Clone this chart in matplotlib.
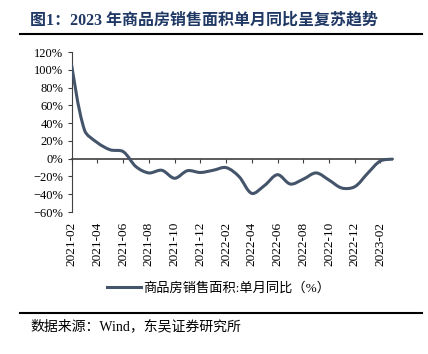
import numpy as np
import matplotlib.pyplot as plt
from matplotlib.path import Path
from matplotlib.patches import PathPatch
from matplotlib.lines import Line2D
from matplotlib.ticker import FuncFormatter

plt.rcParams['font.family'] = ['Liberation Serif', 'Noto Sans CJK SC']
plt.rcParams['axes.unicode_minus'] = True

# monthly YoY of commercial housing sales area, 2021-02 .. 2023-03 (%)
yoy = [105, 32, 18, 10, 8, -9, -16, -13, -22, -13.5, -15.5, -13, -10,
       -20, -39, -30, -18, -28.5, -23, -16, -24, -33, -31.5, -16.5, -2.5, -0.5]
tick_labels = ['2021-02', '2021-04', '2021-06', '2021-08', '2021-10', '2021-12',
               '2022-02', '2022-04', '2022-06', '2022-08', '2022-10', '2022-12',
               '2023-02']
series_name = '商品房销售面积:单月同比（%）'

line_color = '#44546A'
title_color = '#1F3864'

fig = plt.figure(figsize=(4.28, 3.54), dpi=100)
ax = fig.add_axes([0.1675, 0.401, 0.7515, 0.452])

# smoothed line like Excel: Bezier segments, tangents weighted by chord length
x = np.arange(len(yoy), dtype=float)
y = np.array(yoy, dtype=float)
n = len(x)
sx, sy = 12.86, 0.889   # rough px per unit, only used to weight the tangents


def seg_len(i, j):
    return np.hypot((x[j] - x[i]) * sx, (y[j] - y[i]) * sy)


def ctrl(i, side):
    a = max(i - 1, 0)
    b = min(i + 1, n - 1)
    dx, dy = x[b] - x[a], y[b] - y[a]
    l_in = seg_len(a, i) if i > 0 else seg_len(i, b)
    l_out = seg_len(i, b) if i < n - 1 else seg_len(a, i)
    if side > 0:
        f = l_out / (l_in + l_out) / 1.5
    else:
        f = -l_in / (l_in + l_out) / 1.5
    if i == 0 or i == n - 1:
        f = f / 2
    return (x[i] + dx * f / 2, y[i] + dy * f / 2)


verts = [(x[0], y[0])]
codes = [Path.MOVETO]
for i in range(n - 1):
    verts += [ctrl(i, 1), ctrl(i + 1, -1), (x[i + 1], y[i + 1])]
    codes += [Path.CURVE4] * 3
ax.add_patch(PathPatch(Path(verts, codes), fill=False, edgecolor=line_color,
                       lw=2.2, capstyle='round', joinstyle='round', zorder=3))

ax.set_xlim(0, n - 1)
ax.set_ylim(-60, 120)
ax.set_yticks(range(-60, 121, 20))
ax.yaxis.set_major_formatter(FuncFormatter(lambda v, p: f'{int(v)}%'.replace('-', '\u2212')))
ax.tick_params(axis='y', direction='out', length=3, width=0.8, color='#404040',
               labelsize=9, pad=3)

for s in ['top', 'right']:
    ax.spines[s].set_visible(False)
ax.spines['left'].set_color('#404040')
ax.spines['bottom'].set_position(('data', 0))
ax.spines['bottom'].set_color('#404040')
ax.spines['bottom'].set_linewidth(1.2)
ax.spines['left'].set_linewidth(0.8)

pos = list(range(0, n - 1, 2))
ax.set_xticks(pos)
ax.tick_params(axis='x', direction='out', length=3, width=0.8, color='#404040',
               labelbottom=False)

sec = ax.secondary_xaxis('bottom')
sec.set_xticks(pos, labels=tick_labels, rotation=90)
sec.tick_params(length=0, pad=7, labelsize=9.5)
sec.spines['bottom'].set_visible(False)

fig.legend(handles=[Line2D([], [], color=line_color, lw=2.2)], labels=[series_name],
           loc='center', bbox_to_anchor=(218.5 / 428, 1 - 288 / 354), frameon=False,
           handlelength=2.6, handletextpad=0.2, prop={'size': 9.5})

fig.text(30 / 428, 1 - 20.5 / 354, '图1：2023 年商品房销售面积单月同比呈复苏趋势',
         fontsize=11.5, fontweight='bold', color=title_color, va='center')
fig.add_artist(Line2D([20 / 428, 422 / 428], [1 - 34 / 354] * 2, color='black', lw=1.5))
fig.add_artist(Line2D([20 / 428, 422 / 428], [1 - 313 / 354] * 2, color='black', lw=1.5))
fig.text(30 / 428, 1 - 326 / 354, '数据来源：Wind，东吴证券研究所', fontsize=10, va='center')

fig.savefig('out.png', dpi=100)
